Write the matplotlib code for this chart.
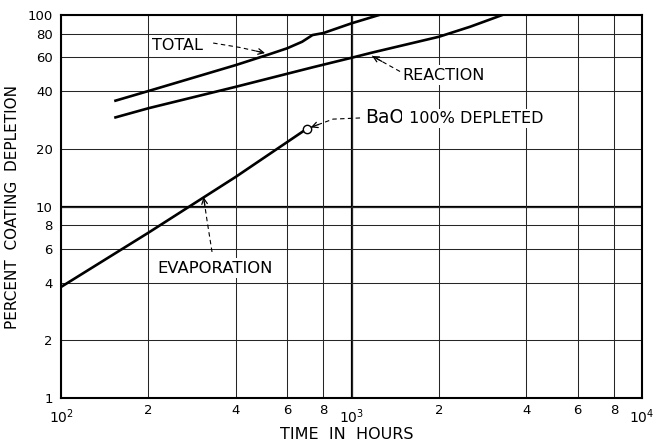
import matplotlib
matplotlib.use("Agg")
import matplotlib.pyplot as plt
from matplotlib.ticker import FixedLocator, FixedFormatter, NullLocator

# depletion curves (hours, percent)
total_hours = [154, 200, 400, 520, 600, 676, 734, 800, 1000, 1243]
total_pct = [35.7, 40.1, 54.8, 62.3, 67.0, 72.5, 78.6, 80.5, 90.5, 100]

reaction_hours = [154, 200, 400, 734, 1000, 1175, 2000, 2563, 3302]
reaction_pct = [29.2, 32.6, 42.2, 53.3, 59.8, 63.6, 77.0, 86.9, 100]

evap_hours = [100, 200, 400, 700]
evap_pct = [3.8, 7.3, 14.3, 25.4]

bao_gone = (700, 25.4)

x_decades = [100, 1000, 10000]
x_decade_labels = [r"$\mathregular{10^{2}}$", r"$\mathregular{10^{3}}$",
                   r"$\mathregular{10^{4}}$"]
x_minor = [200, 400, 600, 800, 2000, 4000, 6000, 8000]
x_minor_labels = ["2", "4", "6", "8", "2", "4", "6", "8"]
y_ticks = [1, 2, 4, 6, 8, 10, 20, 40, 60, 80, 100]
y_labels = ["1", "2", "4", "6", "8", "10", "20", "40", "60", "80", "100"]


def dashed_arrow(ax, pts):
    """dashed leader through pts, solid open head at the last point"""
    xs = [p[0] for p in pts]
    ys = [p[1] for p in pts]
    ax.plot(xs, ys, color="black", lw=0.8, ls=(0, (4, 3)), zorder=4)
    (x0, y0), (x1, y1) = pts[-2], pts[-1]
    # back off a little along the last segment (log space) for the head
    hx = x1 * (x0 / x1) ** 0.35
    hy = y1 * (y0 / y1) ** 0.35
    ax.annotate("", xy=(x1, y1), xytext=(hx, hy),
                arrowprops=dict(arrowstyle="->", lw=0.9, color="black",
                                mutation_scale=10, shrinkA=0, shrinkB=0),
                zorder=5)


fig = plt.figure(figsize=(6.61, 4.43), dpi=100)
ax = fig.add_axes([0.0923, 0.1016, 0.879, 0.8645])
ax.set_xscale("log")
ax.set_yscale("log")
ax.set_xlim(100, 10000)
ax.set_ylim(1, 100)

ax.xaxis.set_major_locator(FixedLocator(x_decades))
ax.xaxis.set_major_formatter(FixedFormatter(x_decade_labels))
ax.xaxis.set_minor_locator(FixedLocator(x_minor))
ax.xaxis.set_minor_formatter(FixedFormatter(x_minor_labels))
ax.yaxis.set_major_locator(FixedLocator(y_ticks))
ax.yaxis.set_major_formatter(FixedFormatter(y_labels))
ax.yaxis.set_minor_locator(NullLocator())

ax.tick_params(axis="x", which="major", length=0, pad=7, labelsize=10)
ax.tick_params(axis="x", which="minor", length=0, pad=4, labelsize=9.5)
ax.tick_params(axis="y", which="major", length=0, pad=6, labelsize=9.5)

ax.grid(True, which="both", color="0.15", lw=0.75)
ax.axvline(1000, color="black", lw=1.6, zorder=1)
ax.axhline(10, color="black", lw=1.6, zorder=1)
for s in ax.spines.values():
    s.set_linewidth(1.5)

ax.plot(total_hours, total_pct, color="black", lw=1.9, zorder=3)
ax.plot(reaction_hours, reaction_pct, color="black", lw=1.9, zorder=3)
ax.plot(evap_hours, evap_pct, color="black", lw=1.9, zorder=3)
ax.plot(*bao_gone, "o", ms=6, mfc="white", mec="black", mew=1.0, zorder=6)

box = dict(facecolor="white", edgecolor="none", pad=1.5)
ax.text(206, 69.7, "TOTAL", fontsize=11.5, va="center", ha="left",
        bbox=box, zorder=4)
ax.text(1493, 48.6, "REACTION", fontsize=11.5, va="center", ha="left",
        bbox=box, zorder=4)
ax.text(214, 4.77, "EVAPORATION", fontsize=11.8, va="center", ha="left",
        bbox=box, zorder=4)
bao = ax.text(1113, 29.0, "BaO", fontsize=13.5, va="center", ha="left",
              bbox=box, zorder=4)
ax.annotate(" 100% DEPLETED", xy=(1, 0.45), xycoords=bao, fontsize=11.5,
            va="center", ha="left", bbox=box, zorder=4)

dashed_arrow(ax, [(334, 71.4), (413, 67.7), (504, 63.3)])
dashed_arrow(ax, [(1469, 50.7), (1177, 61.1)])
dashed_arrow(ax, [(1070, 29.0), (864, 28.6), (724, 25.9)])
dashed_arrow(ax, [(331, 5.79), (318, 8.5), (309.5, 11.2)])

ax.set_xlabel("TIME  IN  HOURS", fontsize=11.5)
ax.xaxis.set_label_coords(0.492, -0.076)
ax.set_ylabel("PERCENT  COATING  DEPLETION", fontsize=11)
ax.yaxis.set_label_coords(-0.07, 0.5)

fig.savefig("out.png", dpi=100)
